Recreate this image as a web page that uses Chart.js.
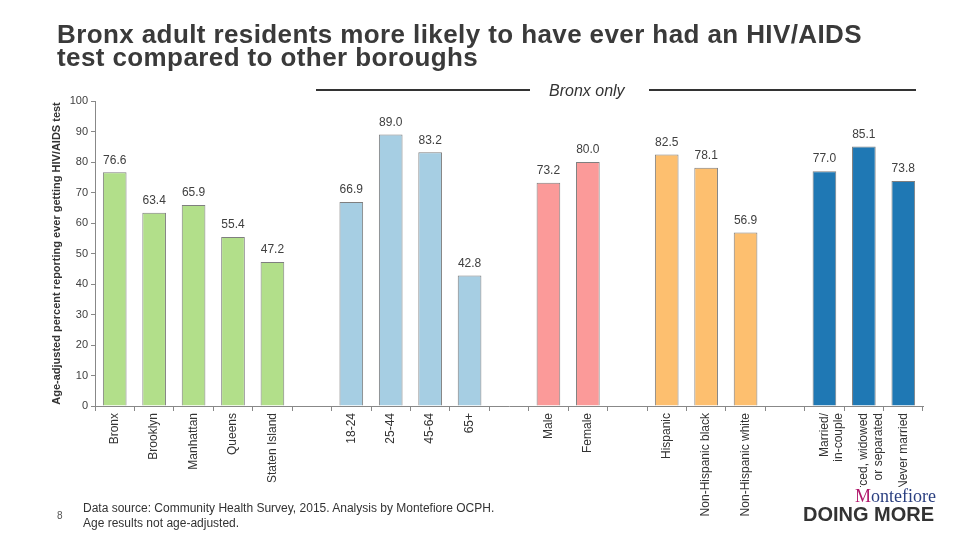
<!DOCTYPE html>
<html>
<head>
<meta charset="utf-8">
<script src="https://cdn.jsdelivr.net/npm/chart.js@4.4.1/dist/chart.umd.min.js"></script>
<style>
  body { margin: 0; background: #fff; font-family: "Liberation Sans", Arial, sans-serif; }
  #wrap { position: relative; width: 960px; height: 540px; overflow: hidden; }
  #title { position: absolute; left: 57px; top: 23px; font-size: 26px; font-weight: bold; line-height: 23px; letter-spacing: 0.4px; color: #3a3a3a; white-space: nowrap; }
  .rule { position: absolute; top: 89px; height: 2px; background: #333; }
  #bronxOnly { position: absolute; left: 549px; top: 82px; font-size: 16px; font-style: italic; color: #333; }
  #source { position: absolute; left: 83px; top: 501px; font-size: 12px; line-height: 15px; color: #333; }
  #page { position: absolute; left: 57px; top: 510px; font-size: 10px; color: #555; }
  #logo1 { position: absolute; left: 855px; top: 487px; font-family: "Liberation Serif", "DejaVu Serif", serif; font-size: 18px; color: #2a3f80; background: #fff; line-height: 18px; }
  #logo1 span { color: #b0186b; }
  #logo2 { position: absolute; left: 803px; top: 504px; font-size: 20px; font-weight: bold; color: #333; line-height: 20px; background: #fff; }
  canvas { position: absolute; left: 0; top: 0; }
</style>
</head>
<body>
<div id="wrap">
  <canvas id="myChart" width="960" height="540"></canvas>
  <div id="title">Bronx adult residents more likely to have ever had an HIV/AIDS<br>test compared to other boroughs</div>
  <div class="rule" style="left:316px;width:214px"></div>
  <div id="bronxOnly">Bronx only</div>
  <div class="rule" style="left:649px;width:267px"></div>
  <div id="source">Data source: Community Health Survey, 2015. Analysis by Montefiore OCPH.<br>Age results not age-adjusted.</div>
  <div id="page">8</div>
  <div id="logo1"><span>M</span>ontefiore</div>
  <div id="logo2">DOING MORE</div>
</div>
<script>
// data by group
var boroughs = ['Bronx', 'Brooklyn', 'Manhattan', 'Queens', 'Staten Island'];
var boroughValues = [76.6, 63.4, 65.9, 55.4, 47.2];
var ageGroups = ['18-24', '25-44', '45-64', '65+'];
var ageValues = [66.9, 89.0, 83.2, 42.8];
var sexes = ['Male', 'Female'];
var sexValues = [73.2, 80.0];
var races = ['Hispanic', 'Non-Hispanic black', 'Non-Hispanic white'];
var raceValues = [82.5, 78.1, 56.9];
var marital = [['Married/', 'in-couple'], ['Divorced, widowed', 'or separated'], 'Never married'];
var maritalValues = [77.0, 85.1, 73.8];

var groups = [
    {labels: boroughs, values: boroughValues, color: '#b2df8a'},
    {labels: ageGroups, values: ageValues, color: '#a6cee3'},
    {labels: sexes, values: sexValues, color: '#fb9a99'},
    {labels: races, values: raceValues, color: '#fdbf6f'},
    {labels: marital, values: maritalValues, color: '#1f78b4'}
];

// flatten with an empty slot between groups
var labels = [], values = [], colors = [];
groups.forEach(function(g, gi) {
    if (gi > 0) { labels.push(''); values.push(null); colors.push('#fff'); }
    g.labels.forEach(function(l, i) {
        labels.push(l);
        values.push(g.values[i]);
        colors.push(g.color);
    });
});

var valueLabels = {
    id: 'valueLabels',
    afterDatasetsDraw: function(chart) {
        var ctx = chart.ctx;
        var meta = chart.getDatasetMeta(0);
        ctx.save();
        ctx.font = '12px "Liberation Sans", Arial, sans-serif';
        ctx.fillStyle = '#404040';
        ctx.textAlign = 'center';
        ctx.textBaseline = 'bottom';
        meta.data.forEach(function(bar, i) {
            if (values[i] == null) return;
            ctx.fillText(values[i].toFixed(1), bar.x, bar.y - 6);
        });
        ctx.restore();
    }
};

var ctx = document.getElementById('myChart').getContext('2d');
var myChart = new Chart(ctx, {
    type: 'bar',
    data: {
        labels: labels,
        datasets: [{
            data: values,
            backgroundColor: colors,
            borderColor: '#7f7f7f',
            borderWidth: 1,
            barPercentage: 0.6,
            categoryPercentage: 1
        }]
    },
    plugins: [valueLabels],
    options: {
        responsive: false,
        animation: false,
        layout: {
            padding: {left: 48, top: 101, right: 37, bottom: 0}
        },
        plugins: {
            legend: {display: false},
            tooltip: {enabled: false}
        },
        scales: {
            x: {
                grid: {drawOnChartArea: false, color: '#888', tickLength: 5},
                border: {color: '#888'},
                ticks: {
                    autoSkip: false,
                    maxRotation: 90,
                    minRotation: 90,
                    padding: 2,
                    color: '#333',
                    font: {size: 12, family: '"Liberation Sans", Arial, sans-serif'}
                },
                afterFit: function(scale) { scale.height = 134; }
            },
            y: {
                min: 0,
                max: 100,
                ticks: {
                    stepSize: 10,
                    padding: 3,
                    color: '#404040',
                    font: {size: 11, family: '"Liberation Sans", Arial, sans-serif'}
                },
                grid: {drawOnChartArea: false, color: '#888', tickLength: 4},
                border: {color: '#888'},
                title: {
                    display: true,
                    text: 'Age-adjusted percent reporting ever getting HIV/AIDS test',
                    color: '#333',
                    padding: 2,
                    font: {size: 11, weight: 'bold', family: '"Liberation Sans", Arial, sans-serif'}
                },
                afterFit: function(scale) { scale.width = 47; }
            }
        }
    }
});
</script>
</body>
</html>
